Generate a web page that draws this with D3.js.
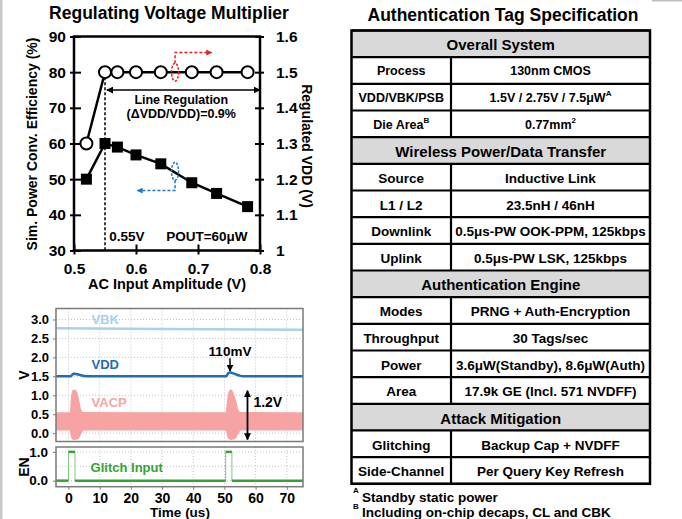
<!DOCTYPE html>
<html>
<head>
<meta charset="utf-8">
<script src="https://cdn.jsdelivr.net/npm/d3@7"></script>
<style>
  body { margin: 0; background: #fff; }
  svg { display: block; font-family: "Liberation Sans", Arial, sans-serif; font-weight: bold; }
</style>
</head>
<body>
<div id="container"></div>
<script>
// ---------- data: regulating voltage multiplier ----------
const ampX = [0.52, 0.55, 0.57, 0.6, 0.64, 0.69, 0.73, 0.78];
const effPct = [50, 60, 59, 56.8, 54.3, 49, 46, 42.3];
const vddReg = [1.3, 1.5, 1.5, 1.5, 1.5, 1.5, 1.5, 1.5];
const ampTicks = [0.5, 0.6, 0.7, 0.8];
const effTicks = [30, 40, 50, 60, 70, 80, 90];
const vddTicks = [1, 1.1, 1.2, 1.3, 1.4, 1.5, 1.6];

// ---------- data: glitch waveforms ----------
const vbkT = [-4, 30, 75.2];
const vbkV = [2.77, 2.75, 2.73];
const vddT = [-4, 0.8, 1.5, 2.5, 3.5, 5, 7, 50.6, 51.3, 52, 53, 54.5, 56, 75.2];
const vddV = [1.5, 1.5, 1.57, 1.56, 1.54, 1.51, 1.5, 1.5, 1.59, 1.6, 1.57, 1.53, 1.5, 1.5];
const vacpT = [-4, 0.4, 0.8, 1.3, 2.0, 2.8, 3.5, 4.2, 4.8, 50.4, 50.9, 51.5, 52.2, 53.0, 53.8, 54.6, 55.2, 75.2];
const vacpHi = [0.55, 0.55, 0.95, 1.13, 1.15, 1.08, 0.85, 0.6, 0.56, 0.55, 0.9, 1.12, 1.15, 1.05, 0.85, 0.6, 0.56, 0.55];
const vacpLo = [0.07, 0.07, -0.1, -0.17, -0.18, -0.17, -0.12, 0.0, 0.07, 0.07, -0.08, -0.16, -0.18, -0.17, -0.12, 0.0, 0.07, 0.07];
const enT = [-4, 0, 0, 2.1, 2.1, 50.4, 50.4, 52.4, 52.4, 75.2];
const enV = [0, 0, 1, 1, 0, 0, 1, 1, 0, 0];
const voltTicks = [0, 0.5, 1, 1.5, 2, 2.5, 3];
const timeTicks = [0, 10, 20, 30, 40, 50, 60, 70];
const enTicks = [0, 1];

// ---------- data: spec table ----------
const sections = ["Overall System", "Wireless Power/Data Transfer", "Authentication Engine", "Attack Mitigation"];
const rowLabels = [
  ["Process", "VDD/VBK/PSB", "Die Area^B"],
  ["Source", "L1 / L2", "Downlink", "Uplink"],
  ["Modes", "Throughput", "Power", "Area"],
  ["Glitching", "Side-Channel"]
];
const rowValues = [
  ["130nm CMOS", "1.5V / 2.75V / 7.5μW^A", "0.77mm^2"],
  ["Inductive Link", "23.5nH / 46nH", "0.5μs-PW OOK-PPM, 125kbps", "0.5μs-PW LSK, 125kbps"],
  ["PRNG + Auth-Encryption", "30 Tags/sec", "3.6μW(Standby), 8.6μW(Auth)", "17.9k GE (Incl. 571 NVDFF)"],
  ["Backup Cap + NVDFF", "Per Query Key Refresh"]
];
const footnotes = [["A", "Standby static power"], ["B", "Including on-chip decaps, CL and CBK"]];

const svg = d3.select("#container").append("svg").attr("width", 682).attr("height", 519);

// page edges
svg.append("rect").attr("x", 0).attr("y", 0).attr("width", 2.5).attr("height", 519).attr("fill", "#c8c8c8");
svg.append("rect").attr("x", 652).attr("y", 0).attr("width", 30).attr("height", 1.5).attr("fill", "#c0c0c0");

// arrow markers
const defs = svg.append("defs");
[["arrBlack", "#000", 7], ["arrRed", "#ee1c1c", 6], ["arrBlue", "#1f77c8", 6]].forEach(([id, c, s]) => {
  defs.append("marker").attr("id", id).attr("viewBox", "0 0 10 10").attr("refX", 9).attr("refY", 5)
    .attr("markerWidth", s).attr("markerHeight", s).attr("markerUnits", "userSpaceOnUse").attr("orient", "auto-start-reverse")
    .append("path").attr("d", "M0,0L10,5L0,10z").attr("fill", c);
});

// helper: text with "^" superscript
function richText(sel, str, supSize) {
  const parts = str.split("^");
  sel.append("tspan").text(parts[0]);
  if (parts[1]) sel.append("tspan").attr("dy", -5).style("font-size", supSize + "px").text(parts[1]);
}

// ======================= top-left chart =======================
const p1 = { left: 74, right: 260, top: 36.5, bottom: 250.5 };
const x1 = d3.scaleLinear().domain([0.5, 0.8]).range([p1.left, p1.right]);
const yL = d3.scaleLinear().domain([30, 90]).range([p1.bottom, p1.top]);
const yR = d3.scaleLinear().domain([1, 1.6]).range([p1.bottom, p1.top]);

svg.append("text").attr("x", 169).attr("y", 19).attr("text-anchor", "middle")
  .style("font-size", "17.5px").text("Regulating Voltage Multiplier");

function styleAxis(g, size) {
  g.attr("font-family", null).attr("font-size", null);
  g.select(".domain").remove();
  g.selectAll(".tick line").attr("stroke", "#000").attr("stroke-width", 2);
  g.selectAll(".tick text").style("font-size", size + "px").attr("fill", "#000");
}

const gL = svg.append("g").attr("transform", `translate(${p1.left},0)`)
  .call(d3.axisLeft(yL).tickValues(effTicks).tickSize(4).tickPadding(4));
styleAxis(gL, 15.5);
gL.selectAll(".tick line").attr("x1", 7);

const gR = svg.append("g").attr("transform", `translate(${p1.right},0)`)
  .call(d3.axisRight(yR).tickValues(vddTicks).tickSize(4).tickPadding(12).tickFormat(d3.format("")));
styleAxis(gR, 15.5);
gR.selectAll(".tick line").attr("x1", -5);

const gB = svg.append("g").attr("transform", `translate(0,${p1.bottom})`)
  .call(d3.axisBottom(x1).tickValues(ampTicks).tickSize(4).tickPadding(8).tickFormat(d3.format(".1f")));
styleAxis(gB, 15.5);
gB.selectAll(".tick line").attr("y1", -6);

svg.append("rect").attr("x", p1.left).attr("y", p1.top).attr("width", p1.right - p1.left)
  .attr("height", p1.bottom - p1.top).attr("fill", "none").attr("stroke", "#000").attr("stroke-width", 2.5);

svg.append("text").attr("transform", "translate(32,144) rotate(-90)").attr("text-anchor", "middle")
  .attr("dominant-baseline", "central").style("font-size", "14px").text("Sim. Power Conv. Efficiency (%)");
svg.append("text").attr("transform", "translate(307,146) rotate(90)").attr("text-anchor", "middle")
  .attr("dominant-baseline", "central").style("font-size", "14px").text("Regulated VDD (V)");
svg.append("text").attr("x", 167).attr("y", 289).attr("text-anchor", "middle")
  .style("font-size", "14.5px").text("AC Input Amplitude (V)");

// dashed marker at 0.55 V
svg.append("line").attr("x1", x1(0.55)).attr("x2", x1(0.55)).attr("y1", yL(80)).attr("y2", yL(30))
  .attr("stroke", "#000").attr("stroke-width", 1.5).attr("stroke-dasharray", "3,2");

// line regulation arrow
svg.append("line").attr("x1", x1(0.553)).attr("x2", x1(0.8)).attr("y1", yL(75)).attr("y2", yL(75))
  .attr("stroke", "#000").attr("stroke-width", 1.5)
  .attr("marker-start", "url(#arrBlack)").attr("marker-end", "url(#arrBlack)");
svg.append("text").attr("x", x1(0.673)).attr("y", yL(72.2)).attr("text-anchor", "middle")
  .attr("dominant-baseline", "central").style("font-size", "12.5px").text("Line Regulation");
svg.append("text").attr("x", x1(0.673)).attr("y", yL(68.2)).attr("text-anchor", "middle")
  .attr("dominant-baseline", "central").style("font-size", "12.5px").text("(ΔVDD/VDD)=0.9%");

const lineEff = d3.line().x((d, i) => x1(ampX[i])).y(d => yL(d));
const lineVdd = d3.line().x((d, i) => x1(ampX[i])).y(d => yR(d));

svg.append("path").attr("d", lineVdd(vddReg)).attr("fill", "none").attr("stroke", "#000").attr("stroke-width", 2.5);
svg.append("path").attr("d", lineEff(effPct)).attr("fill", "none").attr("stroke", "#000").attr("stroke-width", 2.5);

svg.selectAll(".circ").data(vddReg).enter().append("circle").attr("class", "circ")
  .attr("cx", (d, i) => x1(ampX[i])).attr("cy", d => yR(d)).attr("r", 6)
  .attr("fill", "#fff").attr("stroke", "#000").attr("stroke-width", 2);
svg.selectAll(".sq").data(effPct).enter().append("rect").attr("class", "sq")
  .attr("x", (d, i) => x1(ampX[i]) - 5.5).attr("y", d => yL(d) - 5.5).attr("width", 11).attr("height", 11)
  .attr("fill", "#000");

// series pointers
svg.append("ellipse").attr("cx", x1(0.663)).attr("cy", yL(80)).attr("rx", 3.5).attr("ry", 9)
  .attr("fill", "none").attr("stroke", "#ee1c1c").attr("stroke-width", 1.5).attr("stroke-dasharray", "2.5,1.5");
svg.append("path").attr("d", `M${x1(0.663)},${yL(82.5)}V${yL(85.5)}H${x1(0.722)}`)
  .attr("fill", "none").attr("stroke", "#ee1c1c").attr("stroke-width", 1.5).attr("stroke-dasharray", "3,2")
  .attr("marker-end", "url(#arrRed)");
svg.append("ellipse").attr("cx", x1(0.663)).attr("cy", yL(52.2)).attr("rx", 3.5).attr("ry", 9)
  .attr("fill", "none").attr("stroke", "#1f77c8").attr("stroke-width", 1.5).attr("stroke-dasharray", "2.5,1.5");
svg.append("path").attr("d", `M${x1(0.663)},${yL(49.7)}V${yL(46.8)}H${x1(0.602)}`)
  .attr("fill", "none").attr("stroke", "#1f77c8").attr("stroke-width", 1.5).attr("stroke-dasharray", "3,2")
  .attr("marker-end", "url(#arrBlue)");

svg.append("text").attr("x", x1(0.557)).attr("y", yL(33.8)).attr("dominant-baseline", "central")
  .style("font-size", "13.5px").text("0.55V");
svg.append("text").attr("x", x1(0.78)).attr("y", yL(33.8)).attr("text-anchor", "end").attr("dominant-baseline", "central")
  .style("font-size", "13.5px").text("POUT=60μW");

// ======================= bottom-left waveforms =======================
const p2 = { left: 56, right: 303, top: 308.5, bottom: 441.5, enTop: 447, enBottom: 486.7 };
const xt = d3.scaleLinear().domain([-4, 75.2]).range([p2.left, p2.right]);
const yv = d3.scaleLinear().domain([-0.22, 3.29]).range([p2.bottom, p2.top]);
const ye = d3.scaleLinear().domain([-0.21, 1.17]).range([p2.enBottom, p2.enTop]);

// grids
const grid = svg.append("g").attr("stroke", "#c4c4c4").attr("stroke-width", 1).attr("stroke-dasharray", "1,2");
grid.selectAll(".gv").data(timeTicks).enter().append("line")
  .attr("x1", d => xt(d)).attr("x2", d => xt(d)).attr("y1", p2.top).attr("y2", p2.bottom);
grid.selectAll(".gv2").data(timeTicks).enter().append("line")
  .attr("x1", d => xt(d)).attr("x2", d => xt(d)).attr("y1", p2.enTop).attr("y2", p2.enBottom);
grid.selectAll(".gh").data(voltTicks).enter().append("line")
  .attr("x1", p2.left).attr("x2", p2.right).attr("y1", d => yv(d)).attr("y2", d => yv(d));
grid.selectAll(".gh2").data([0, 0.5, 1]).enter().append("line")
  .attr("x1", p2.left).attr("x2", p2.right).attr("y1", d => ye(d)).attr("y2", d => ye(d));

// VACP envelope
const vacpArea = d3.area().curve(d3.curveMonotoneX)
  .x((d, i) => xt(vacpT[i])).y0((d, i) => yv(vacpLo[i])).y1(d => yv(d));
svg.append("path").attr("d", vacpArea(vacpHi)).attr("fill", "#f8a3a3");

const lineT = (ts) => d3.line().curve(d3.curveMonotoneX).x((d, i) => xt(ts[i])).y(d => yv(d));
svg.append("path").attr("d", lineT(vbkT)(vbkV)).attr("fill", "none").attr("stroke", "#a9d1ea").attr("stroke-width", 2.5);
svg.append("path").attr("d", lineT(vddT)(vddV)).attr("fill", "none").attr("stroke", "#1f6db3").attr("stroke-width", 2.5);

// EN glitch input
const lineEn = d3.line().x((d, i) => xt(enT[i])).y(d => ye(d));
svg.append("path").attr("d", lineEn(enV)).attr("fill", "none").attr("stroke", "#7cc97c").attr("stroke-width", 1);
const enLevels = enV.slice(1).map((v, i) => [enT[i], enT[i + 1], v]).filter((s, i) => enV[i] === s[2] && s[1] > s[0]);
svg.selectAll(".enl").data(enLevels).enter().append("line")
  .attr("x1", d => xt(d[0])).attr("x2", d => xt(d[1])).attr("y1", d => ye(d[2])).attr("y2", d => ye(d[2]))
  .attr("stroke", "#33a333").attr("stroke-width", 2.5);

// frames
svg.append("rect").attr("x", p2.left).attr("y", p2.top).attr("width", p2.right - p2.left).attr("height", p2.bottom - p2.top)
  .attr("fill", "none").attr("stroke", "#7a7a7a").attr("stroke-width", 1.5);
svg.append("rect").attr("x", p2.left).attr("y", p2.enTop).attr("width", p2.right - p2.left).attr("height", p2.enBottom - p2.enTop)
  .attr("fill", "none").attr("stroke", "#7a7a7a").attr("stroke-width", 1.5);

// axes
const gV = svg.append("g").attr("transform", `translate(${p2.left},0)`)
  .call(d3.axisLeft(yv).tickValues(voltTicks).tickSize(3).tickPadding(4).tickFormat(d3.format(".1f")));
styleAxis(gV, 13);
gV.selectAll(".tick line").attr("stroke", "#7a7a7a").attr("stroke-width", 1);
const gE = svg.append("g").attr("transform", `translate(${p2.left},0)`)
  .call(d3.axisLeft(ye).tickValues(enTicks).tickSize(3).tickPadding(5));
styleAxis(gE, 13.5);
gE.selectAll(".tick line").attr("stroke", "#7a7a7a").attr("stroke-width", 1);
const gT = svg.append("g").attr("transform", `translate(0,${p2.enBottom})`)
  .call(d3.axisBottom(xt).tickValues(timeTicks).tickSize(3).tickPadding(3));
styleAxis(gT, 14);
gT.selectAll(".tick line").attr("stroke", "#7a7a7a").attr("stroke-width", 1);

svg.append("text").attr("transform", "translate(24,375) rotate(-90)").attr("text-anchor", "middle")
  .attr("dominant-baseline", "central").style("font-size", "14px").text("V");
svg.append("text").attr("transform", "translate(24,467) rotate(-90)").attr("text-anchor", "middle")
  .attr("dominant-baseline", "central").style("font-size", "14px").text("EN");
svg.append("text").attr("x", 180).attr("y", 517).attr("text-anchor", "middle")
  .style("font-size", "13.5px").text("Time (us)");

// waveform labels
const wl = (t, v, txt, c, ys) => svg.append("text").attr("x", xt(t)).attr("y", (ys || yv)(v))
  .attr("dominant-baseline", "central").attr("fill", c).style("font-size", "13px").text(txt);
wl(7.4, 3.0, "VBK", "#a9d1ea");
wl(7.4, 1.8, "VDD", "#1f6db3");
wl(7.4, 0.8, "VACP", "#f8a3a3");
wl(7.1, 0.47, "Glitch Input", "#33a333", ye);
svg.append("text").attr("x", xt(51.8)).attr("y", yv(2.15)).attr("text-anchor", "middle")
  .attr("dominant-baseline", "central").style("font-size", "13.5px").text("110mV");
svg.append("line").attr("x1", xt(51.8)).attr("x2", xt(51.8)).attr("y1", yv(1.98)).attr("y2", yv(1.64))
  .attr("stroke", "#000").attr("stroke-width", 1.5).attr("marker-end", "url(#arrBlack)");
svg.append("line").attr("x1", xt(57.4)).attr("x2", xt(57.4)).attr("y1", yv(1.12)).attr("y2", yv(-0.17))
  .attr("stroke", "#000").attr("stroke-width", 1.8)
  .attr("marker-start", "url(#arrBlack)").attr("marker-end", "url(#arrBlack)");
svg.append("text").attr("x", xt(59.3)).attr("y", yv(0.82)).attr("dominant-baseline", "central")
  .style("font-size", "14px").text("1.2V");

// ======================= spec table =======================
const tb = { left: 351.5, mid: 451, right: 650, top: 30.5, bottom: 483.8 };
svg.append("text").attr("x", 503).attr("y", 21).attr("text-anchor", "middle")
  .style("font-size", "17.5px").text("Authentication Tag Specification");

const rows = [];
sections.forEach((s, si) => {
  rows.push({ head: s, sec: si });
  rowLabels[si].forEach((l, li) => rows.push({ label: l, value: rowValues[si][li], sec: si }));
});
const yRow = d3.scaleLinear().domain([0, rows.length]).range([tb.top, tb.bottom]);

const tg = svg.append("g");
tg.selectAll(".hd").data(rows.filter(r => r.head)).enter().append("rect")
  .attr("x", tb.left).attr("width", tb.right - tb.left)
  .attr("y", d => yRow(rows.indexOf(d))).attr("height", yRow(1) - yRow(0)).attr("fill", "#d9d9d9");

rows.forEach((r, i) => {
  const cy = (yRow(i) + yRow(i + 1)) / 2 + 1;
  if (r.head) {
    tg.append("text").attr("x", (tb.left + tb.right) / 2).attr("y", cy).attr("text-anchor", "middle")
      .attr("dominant-baseline", "central").style("font-size", "15px").text(r.head);
  } else {
    const fs = r.sec === 0 ? 12.5 : 13.5;
    const t1 = tg.append("text").attr("x", (tb.left + tb.mid) / 2).attr("y", cy).attr("text-anchor", "middle")
      .attr("dominant-baseline", "central").style("font-size", fs + "px");
    richText(t1, r.label, 8);
    const t2 = tg.append("text").attr("x", (tb.mid + tb.right) / 2).attr("y", cy).attr("text-anchor", "middle")
      .attr("dominant-baseline", "central").style("font-size", fs + "px");
    richText(t2, r.value, 8);
    tg.append("line").attr("x1", tb.mid).attr("x2", tb.mid).attr("y1", yRow(i)).attr("y2", yRow(i + 1))
      .attr("stroke", "#000").attr("stroke-width", 2.2);
  }
});
tg.selectAll(".hl").data(d3.range(rows.length + 1)).enter().append("line")
  .attr("x1", tb.left).attr("x2", tb.right).attr("y1", d => yRow(d)).attr("y2", d => yRow(d))
  .attr("stroke", "#000").attr("stroke-width", 2.2);
tg.append("rect").attr("x", tb.left).attr("y", tb.top).attr("width", tb.right - tb.left).attr("height", tb.bottom - tb.top)
  .attr("fill", "none").attr("stroke", "#000").attr("stroke-width", 2.5);

footnotes.forEach((f, i) => {
  svg.append("text").attr("x", 353).attr("y", 493 + i * 15.5).style("font-size", "8px").text(f[0]);
  svg.append("text").attr("x", 362).attr("y", 501.5 + i * 15.5).style("font-size", "13.5px").text(f[1]);
});
</script>
</body>
</html>
